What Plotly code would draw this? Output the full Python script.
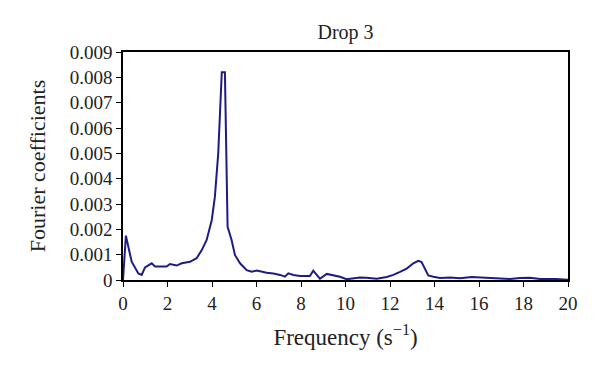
import plotly.graph_objects as go

freq = [0.0, 0.13, 0.39, 0.69, 0.84, 0.99, 1.29, 1.44, 1.96, 2.11, 2.41, 2.64, 3.01, 3.31,
        3.54, 3.76, 3.99, 4.13, 4.28, 4.44, 4.58, 4.70, 4.88, 5.03, 5.26, 5.56, 5.78, 6.01,
        6.46, 6.76, 7.06, 7.28, 7.43, 7.66, 7.96, 8.40, 8.55, 8.85, 9.16, 9.45, 9.75, 10.05,
        10.35, 10.65, 10.95, 11.40, 11.85, 12.15, 12.45, 12.75, 13.05, 13.27, 13.42, 13.57,
        13.72, 13.95, 14.25, 14.70, 15.15, 15.67, 16.04, 16.49, 16.94, 17.39, 17.84, 18.29,
        18.74, 19.19, 19.49, 19.94, 20.0]
coef_e3 = [0.0, 1.75, 0.72, 0.26, 0.20, 0.50, 0.66, 0.53, 0.53, 0.63, 0.57, 0.66, 0.72, 0.86,
           1.18, 1.58, 2.37, 3.29, 5.0, 8.2, 8.2, 2.1, 1.58, 0.99, 0.66, 0.39, 0.33, 0.37,
           0.29, 0.26, 0.20, 0.13, 0.26, 0.20, 0.16, 0.16, 0.37, 0.05, 0.24, 0.20, 0.13, 0.03,
           0.05, 0.10, 0.09, 0.05, 0.12, 0.20, 0.32, 0.45, 0.66, 0.76, 0.71, 0.46,
           0.18, 0.13, 0.08, 0.10, 0.07, 0.12, 0.10, 0.09, 0.05, 0.04, 0.08, 0.09,
           0.04, 0.05, 0.04, 0.01, 0.02]
coef = [v / 1000 for v in coef_e3]

x_ticks = [0, 2, 4, 6, 8, 10, 12, 14, 16, 18, 20]
y_ticks = [0, 0.001, 0.002, 0.003, 0.004, 0.005, 0.006, 0.007, 0.008, 0.009]
y_ticklabels = ["0", "0.001", "0.002", "0.003", "0.004", "0.005", "0.006", "0.007", "0.008", "0.009"]

font_family = "Liberation Serif, DejaVu Serif, serif"

# page body has an 8px offset; compensate in margins
OFF = 8
L, R, T, B = 123 - OFF, 32 + OFF, 52 - OFF, 91 + OFF

fig = go.Figure()
fig.add_trace(go.Scatter(x=freq, y=coef, mode="lines",
                         line=dict(color="#1c1c85", width=2), showlegend=False))

fig.update_layout(
    width=600, height=371,
    margin=dict(l=L, r=R, t=T, b=B),
    paper_bgcolor="white", plot_bgcolor="white",
    font=dict(family=font_family, size=19, color="#222"),
    title=dict(text="Drop 3", x=(L + 600 - R) / 2 / 600, xanchor="center",
               y=1 - (32 - OFF) / 371, yanchor="middle",
               font=dict(family=font_family, size=20, color="#222")),
    xaxis=dict(range=[0, 20], tickvals=x_ticks, ticks="outside", ticklen=5,
               tickcolor="#000", showline=True, linecolor="#000", linewidth=1.5,
               mirror=True, showgrid=False, zeroline=False,
               title=dict(text="Frequency (s<sup>−1</sup>)", standoff=16)),
    yaxis=dict(range=[0, 0.009], tickvals=y_ticks, ticktext=y_ticklabels,
               ticks="outside", ticklen=5, tickcolor="#000",
               showline=True, linecolor="#000", linewidth=1.5, mirror=True,
               showgrid=False, zeroline=False,
               title=dict(text="Fourier coefficients", standoff=18,
                          font=dict(family=font_family, size=22, color="#222"))),
)

fig.write_html("out.html")
